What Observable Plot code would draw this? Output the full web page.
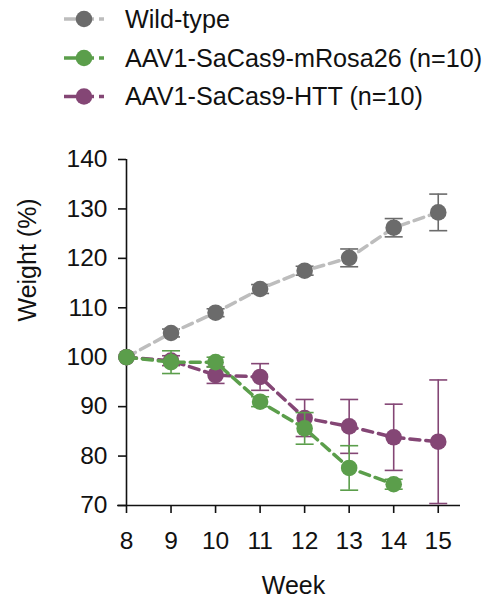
<!DOCTYPE html>
<html>
<head>
<meta charset="utf-8">
<script src="https://cdn.jsdelivr.net/npm/d3@7"></script>
<script src="https://cdn.jsdelivr.net/npm/@observablehq/plot@0.6"></script>
<style>
  body { margin: 0; background: #fff; font-family: "Liberation Sans", Arial, Helvetica, sans-serif; }
  #legend svg, #chart svg { display: block; }
</style>
</head>
<body>
<div id="legend"></div>
<div id="chart"></div>
<script>
// ---- data ----
const weeks = [8, 9, 10, 11, 12, 13, 14, 15];
const seriesNames = ["Wild-type", "AAV1-SaCas9-mRosa26 (n=10)", "AAV1-SaCas9-HTT (n=10)"];
const wildTypeMean = [100, 104.9, 109.0, 113.8, 117.5, 120.1, 126.2, 129.3];
const wildTypeErr  = [0, 0.8, 0.8, 0.9, 0.9, 1.8, 1.85, 3.7];
const rosaMean = [100, 99.0, 99.0, 91.0, 85.6, 77.6, 74.3];
const rosaErr  = [0, 2.3, 1.0, 1.0, 3.2, 4.5, 1.0];
const httMean = [100, 99.3, 96.4, 96.0, 87.7, 86.0, 83.8, 82.9];
const httErr  = [0, 1.0, 1.7, 2.7, 3.75, 5.45, 6.7, 12.5];
const yTicks = [70, 80, 90, 100, 110, 120, 130, 140];
const xDomain = [8, 15.5];
const xAxisStart = 7.8;
const yDomain = [70, 140];
const dotColors = ["#6b6b6b", "#5b9e4b", "#844675"];
const lineColors = ["#bdbdbd", "#5b9e4b", "#844675"];

const means = [wildTypeMean, rosaMean, httMean];
const errs = [wildTypeErr, rosaErr, httErr];
const rows = [];
seriesNames.forEach((name, i) => {
  means[i].forEach((v, j) => rows.push({series: name, idx: i, week: weeks[j], mean: v, err: errs[i][j]}));
});

const capSymbol = {
  draw(ctx, size) {
    const w = Math.sqrt(size / Math.PI);
    ctx.moveTo(-w, 0);
    ctx.lineTo(w, 0);
  }
};

const marks = [];
const drawOrder = [0, 2, 1];
for (const i of drawOrder) {
  const data = rows.filter(d => d.idx === i);
  const withErr = data.filter(d => d.err > 0);
  marks.push(
    Plot.ruleX(withErr, {x: "week", y1: d => d.mean - d.err, y2: d => d.mean + d.err, stroke: dotColors[i], strokeWidth: 1.6}),
    Plot.dot(withErr, {x: "week", y: d => d.mean + d.err, symbol: capSymbol, r: 9, stroke: dotColors[i], strokeWidth: 1.6, fill: "none"}),
    Plot.dot(withErr, {x: "week", y: d => d.mean - d.err, symbol: capSymbol, r: 9, stroke: dotColors[i], strokeWidth: 1.6, fill: "none"}),
    Plot.line(data, {x: "week", y: "mean", stroke: lineColors[i], strokeWidth: 3.5, strokeDasharray: "10,6"}),
    Plot.dot(data, {x: "week", y: "mean", r: 8.3, fill: dotColors[i], stroke: "none"})
  );
}

const chart = Plot.plot({
  width: 491,
  height: 480,
  marginTop: 39,
  marginBottom: 95,
  marginLeft: 126,
  marginRight: 31,
  style: {fontFamily: '"Liberation Sans", Arial, Helvetica, sans-serif', fontSize: "24px", color: "#111", background: "#fff"},
  x: {domain: xDomain},
  y: {domain: yDomain},
  marks: [
    Plot.ruleX([xDomain[0]], {y1: yDomain[0], y2: yDomain[1], stroke: "#111", strokeWidth: 1.6}),
    Plot.ruleY([yDomain[0]], {x1: xAxisStart, x2: xDomain[1], stroke: "#111", strokeWidth: 1.6}),
    Plot.axisX({ticks: weeks, tickSize: 8, tickPadding: 18.5, fontSize: 24.5, label: null, tickFormat: d => String(d), strokeWidth: 1.6}),
    Plot.axisY({ticks: yTicks, tickSize: 8, tickPadding: 11, fontSize: 24.5, label: null, tickFormat: d => String(d), strokeWidth: 1.6}),
    Plot.text(["Week"], {text: d => d, frameAnchor: "bottom", dy: 80, fontSize: 25, lineAnchor: "middle"}),
    Plot.text(["Weight (%)"], {text: d => d, frameAnchor: "left", rotate: -90, dx: -99, dy: -11, fontSize: 25, lineAnchor: "middle"}),
    ...marks
  ]
});
document.getElementById("chart").appendChild(chart);

// ---- legend ----
const legendRowY = [19, 58, 96.5];
const leg = d3.select("#legend").append("svg").attr("width", 491).attr("height", 120)
  .style("font-family", '"Liberation Sans", Arial, Helvetica, sans-serif');
seriesNames.forEach((name, i) => {
  const g = leg.append("g").attr("transform", `translate(0,${legendRowY[i]})`);
  g.append("line").attr("x1", 64).attr("x2", 104).attr("y1", 0).attr("y2", 0)
    .attr("stroke", lineColors[i]).attr("stroke-width", 3.5).attr("stroke-dasharray", "30,5,6");
  g.append("circle").attr("cx", 84).attr("cy", 0).attr("r", 8.3).attr("fill", dotColors[i]);
  g.append("text").attr("x", 125).attr("y", 0).attr("dy", "0.35em").attr("font-size", 25.2).attr("fill", "#111").text(name);
});
</script>
</body>
</html>
